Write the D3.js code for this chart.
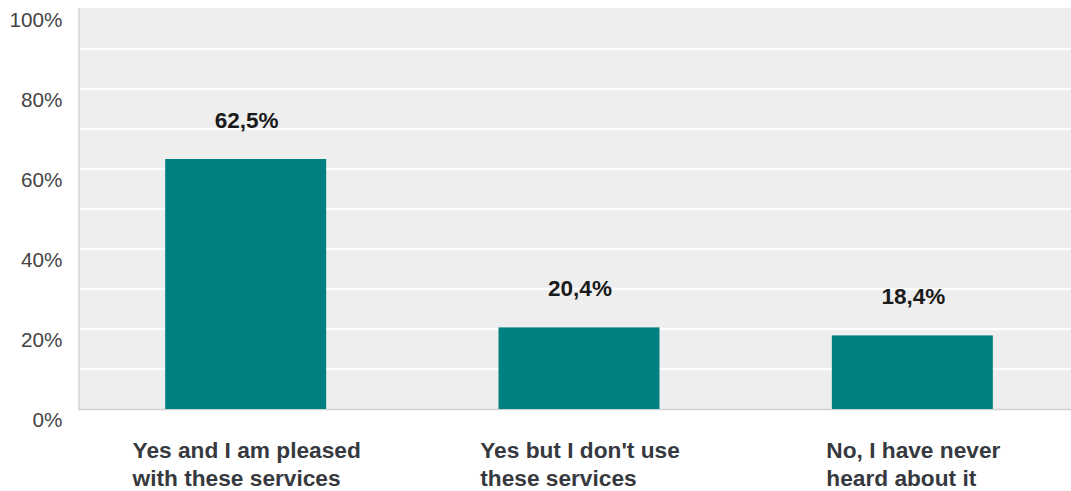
<!DOCTYPE html>
<html>
<head>
<meta charset="utf-8">
<script src="https://cdn.jsdelivr.net/npm/d3@7"></script>
<style>
  html, body { margin: 0; padding: 0; background: #ffffff; }
  svg { display: block; font-family: "Liberation Sans", Arial, sans-serif; }
</style>
</head>
<body>
<svg id="chart" width="1071" height="491"></svg>
<script>
const categories = [
  ["Yes and I am pleased", "with these services"],
  ["Yes but I don't use", "these services"],
  ["No, I have never", "heard about it"]
];
const values = [62.5, 20.4, 18.4];
const valueLabels = ["62,5%", "20,4%", "18,4%"];
const tickValues = [0, 20, 40, 60, 80, 100];
const gridValues = [10, 20, 30, 40, 50, 60, 70, 80, 90];

const svg = d3.select("#chart");
const W = 1071;
const plotLeft = 79, plotTop = 8, plotBottom = 409;

const y = d3.scaleLinear().domain([0, 100]).range([409, 9]);
const x = d3.scaleBand()
  .domain(d3.range(categories.length))
  .range([79, 1079])
  .paddingInner(0.517)
  .paddingOuter(0.2585);

// plot background
svg.append("rect")
  .attr("x", plotLeft).attr("y", plotTop)
  .attr("width", W - plotLeft).attr("height", plotBottom - plotTop)
  .attr("fill", "#eeeeee");

// left shadow edge
svg.append("rect")
  .attr("x", plotLeft - 1).attr("y", plotTop)
  .attr("width", 2).attr("height", plotBottom - plotTop + 1)
  .attr("fill", "#dedede");

// gridlines
svg.append("g").selectAll("line")
  .data(gridValues)
  .join("line")
  .attr("x1", plotLeft + 1).attr("x2", W)
  .attr("y1", d => y(d)).attr("y2", d => y(d))
  .attr("stroke", "#ffffff")
  .attr("stroke-width", 2);

// bottom edge
svg.append("line")
  .attr("x1", plotLeft - 1).attr("x2", W)
  .attr("y1", plotBottom + 0.5).attr("y2", plotBottom + 0.5)
  .attr("stroke", "#d2d2d2")
  .attr("stroke-width", 1.5);

// y-axis tick labels via d3 axis
const yAxis = d3.axisLeft(y)
  .tickValues(tickValues)
  .tickFormat(d => d + "%")
  .tickSize(0)
  .tickPadding(0);
const gAxis = svg.append("g")
  .attr("transform", "translate(62.5,0)")
  .call(yAxis);
gAxis.select(".domain").remove();
gAxis.selectAll("text")
  .attr("font-family", "'Liberation Sans', Arial, sans-serif")
  .attr("font-size", 20.7)
  .attr("fill", "#444444")
  .attr("dy", null)
  .attr("y", 17);

// bars
svg.append("g").selectAll("rect")
  .data(values)
  .join("rect")
  .attr("x", (d, i) => x(i))
  .attr("width", x.bandwidth())
  .attr("y", d => y(d))
  .attr("height", d => y(0) - y(d))
  .attr("fill", "#008080");

// value labels
svg.append("g").selectAll("text")
  .data(values)
  .join("text")
  .attr("x", (d, i) => x(i) + x.bandwidth() / 2 + 1)
  .attr("y", d => y(d) - 31)
  .attr("text-anchor", "middle")
  .attr("font-size", 22.5)
  .attr("font-weight", "bold")
  .attr("fill", "#1a1a1a")
  .text((d, i) => valueLabels[i]);

// category labels (block centred under bar, lines left-aligned)
const catG = svg.append("g");
categories.forEach((lines, i) => {
  const t = catG.append("text")
    .attr("font-size", 22.7)
    .attr("font-weight", "bold")
    .attr("fill", "#363a40");
  lines.forEach((ln, j) => {
    t.append("tspan").attr("y", 458 + j * 28).text(ln);
  });
  let maxW = 0;
  t.selectAll("tspan").each(function () {
    maxW = Math.max(maxW, this.getComputedTextLength());
  });
  const cx = x(i) + x.bandwidth() / 2 + 1;
  t.selectAll("tspan").attr("x", cx - maxW / 2);
});
</script>
</body>
</html>
